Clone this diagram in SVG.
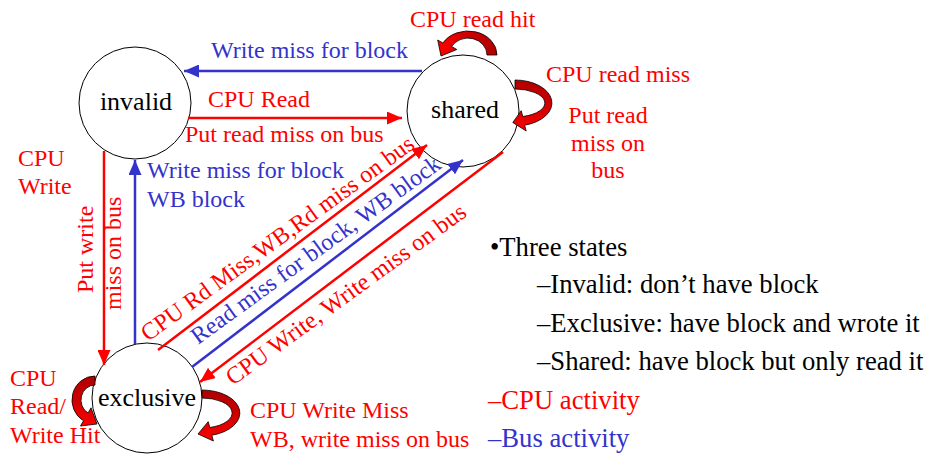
<svg xmlns="http://www.w3.org/2000/svg" width="928" height="455" viewBox="0 0 928 455" font-family="'Liberation Serif', 'DejaVu Serif', serif">
  <style>
    text { font-family: "Liberation Serif", "DejaVu Serif", serif; }
    .lbl { font-size: 24px; }
    .red { fill: #ff0000; }
    .blue { fill: #3333cc; }
    .blk { fill: #000000; }
    .node circle { fill: #ffffff; stroke: #000000; stroke-width: 1; }
    .node text { font-size: 26px; fill: #000000; text-anchor: middle; }
    .er { stroke: #ff0000; stroke-width: 2.5; fill: none; marker-end: url(#headR); }
    .eb { stroke: #3333cc; stroke-width: 2.5; fill: none; marker-end: url(#headB); }
    .loop { stroke: #000000; stroke-width: 0.8; stroke-linejoin: round; }
    .legend { font-size: 26.67px; }
    .mid { text-anchor: middle; }
  </style>
  <defs>
    <marker id="headR" viewBox="0 0 15 13" refX="15" refY="6.5" markerWidth="15" markerHeight="13" markerUnits="userSpaceOnUse" orient="auto">
      <path d="M0,0 L15,6.5 L0,13 Z" fill="#ff0000"/>
    </marker>
    <marker id="headB" viewBox="0 0 15 13" refX="15" refY="6.5" markerWidth="15" markerHeight="13" markerUnits="userSpaceOnUse" orient="auto">
      <path d="M0,0 L15,6.5 L0,13 Z" fill="#3333cc"/>
    </marker>
    <!-- curved self-loop fills: dark red at the tail, bright red at the head -->
    <linearGradient id="loopH" x1="1" y1="0" x2="0" y2="0">
      <stop offset="0" stop-color="#b00000"/>
      <stop offset="0.45" stop-color="#cc0000"/>
      <stop offset="1" stop-color="#ff0000"/>
    </linearGradient>
    <linearGradient id="loopV" x1="0" y1="0" x2="0" y2="1">
      <stop offset="0" stop-color="#b00000"/>
      <stop offset="0.45" stop-color="#cc0000"/>
      <stop offset="1" stop-color="#ff0000"/>
    </linearGradient>
  </defs>

  <rect width="928" height="455" fill="#ffffff"/>

  <!-- states -->
  <g id="invalid" class="node">
    <circle cx="135" cy="103" r="56"/>
    <text x="136" y="110">invalid</text>
  </g>
  <g id="shared" class="node">
    <circle cx="463" cy="111" r="56"/>
    <text x="465" y="118">shared</text>
  </g>
  <g id="exclusive" class="node">
    <circle cx="147" cy="398" r="55"/>
    <text x="147" y="406">exclusive</text>
  </g>

  <!-- transitions -->
  <g id="connectors">
    <line class="eb" x1="422" y1="71" x2="184" y2="71"/>
    <line class="er" x1="188" y1="118" x2="402" y2="118"/>
    <line class="er" x1="104" y1="151" x2="104" y2="365"/>
    <line class="eb" x1="135" y1="344" x2="135" y2="160"/>
    <line class="er" x1="158" y1="350" x2="427" y2="145"/>
    <line class="eb" x1="192" y1="367" x2="463" y2="160"/>
    <line class="er" x1="503" y1="152" x2="200" y2="382"/>

    <!-- self loops -->
    <path class="loop" fill="url(#loopH)" d="M497,55 A29,24 0 0 0 442.9,43 L437.7,40 L441,56 L456.8,49.5 L451.6,46.5 A19,17 0 0 1 487,55 Z"/>
    <path class="loop" fill="url(#loopV)" d="M515,80 A37,23 0 0 1 524.6,125.2 L526.2,131 L512.8,122.5 L521.2,110.7 L522.8,116.5 A30,14 0 0 0 515,89 Z"/>
    <path class="loop" fill="url(#loopV)" d="M95,376 A23,24 0 0 0 83.5,420.8 L80.5,426 L97,424 L91,407.8 L88,413 A14,15 0 0 1 95,385 Z"/>
    <path class="loop" fill="url(#loopV)" d="M202,390 A38,23 0 0 1 211.8,435.2 L213.4,441 L198,434 L208.2,421.7 L209.8,427.5 A30,15 0 0 0 202,398 Z"/>

    <!-- transition labels -->
    <text class="lbl blue" x="211" y="58">Write miss for block</text>
    <text class="lbl red" x="208" y="107">CPU Read</text>
    <text class="lbl red" x="185" y="142">Put read miss on bus</text>
    <text class="lbl red" x="18" y="166">CPU</text>
    <text class="lbl red" x="18" y="194">Write</text>
    <text class="lbl blue" x="147" y="178">Write miss for block</text>
    <text class="lbl blue" x="147" y="207">WB block</text>
    <text class="lbl red" transform="translate(93,293) rotate(-90)">Put write</text>
    <text class="lbl red" transform="translate(121,310) rotate(-90)">miss on bus</text>
    <text class="lbl red" transform="translate(148,342) rotate(-36)">CPU Rd Miss,WB,Rd miss on bus</text>
    <text class="lbl blue" transform="translate(198,345) rotate(-36)">Read miss for block, WB block</text>
    <text class="lbl red" transform="translate(233,386) rotate(-36)">CPU Write, Write miss on bus</text>
    <text class="lbl red" x="410" y="27">CPU read hit</text>
    <text class="lbl red" x="546" y="82">CPU read miss</text>
    <text class="lbl red mid" x="608" y="123">Put read</text>
    <text class="lbl red mid" x="608" y="151">miss on</text>
    <text class="lbl red mid" x="608" y="178">bus</text>
    <text class="lbl red" x="10" y="386">CPU</text>
    <text class="lbl red" x="10" y="414">Read/</text>
    <text class="lbl red" x="10" y="443">Write Hit</text>
    <text class="lbl red" x="250" y="418">CPU Write Miss</text>
    <text class="lbl red" x="250" y="447">WB, write miss on bus</text>
  </g>

  <!-- summary -->
  <g id="legend" class="legend">
    <text class="blk" x="490" y="256">•Three states</text>
    <text class="blk" x="537" y="293">–Invalid: don’t have block</text>
    <text class="blk" x="537" y="332">–Exclusive: have block and wrote it</text>
    <text class="blk" x="537" y="370">–Shared: have block but only read it</text>
    <text class="red" x="488" y="409">–CPU activity</text>
    <text class="blue" x="488" y="447">–Bus activity</text>
  </g>
</svg>
